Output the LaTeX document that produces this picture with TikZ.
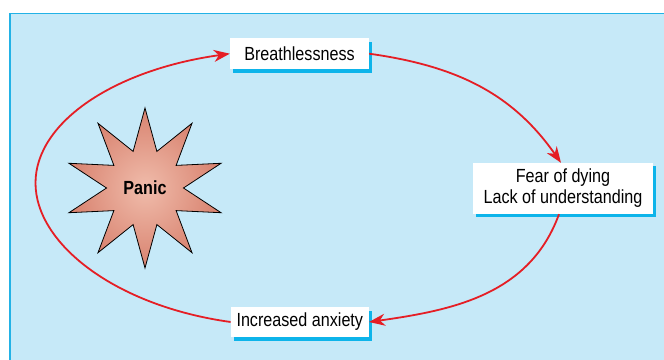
\documentclass[tikz,border=0pt]{standalone}
\usepackage{fontspec}
\setmainfont{Liberation Sans}[FakeStretch=0.85]
\usepackage{xcolor}
\usetikzlibrary{arrows.meta, positioning, calc, shapes.geometric, shadows}

\definecolor{panelblue}{HTML}{C6E9F8}
\definecolor{panelline}{HTML}{22B2E6}
\definecolor{shadowcyan}{HTML}{0DB4EA}
\definecolor{cyclered}{HTML}{E51E25}
\definecolor{paniclight}{HTML}{F0BCAB}
\definecolor{panicdark}{HTML}{D8826F}

\tikzset{
    stage/.style={rectangle, fill=white, align=center, inner sep=0pt,
        font=\fontsize{19}{21}\selectfont,
        drop shadow={shadow xshift=3pt, shadow yshift=-3.5pt,
            fill=shadowcyan, opacity=1}},
    cycle/.style={draw=cyclered, line width=1.8pt,
        -{Stealth[length=16pt, width=12pt, inset=5pt]}},
    cycleline/.style={draw=cyclered, line width=1.8pt}
}

\begin{document}
\begin{tikzpicture}[x=1pt, y=1pt]
    \useasboundingbox (0,0) rectangle (664,359);
    \begin{scope}
        \clip (0,0) rectangle (664,359);
        \draw[panelline, fill=panelblue, line width=1.3pt]
            (10,345.5) rectangle (680,-20);
    \end{scope}

    % the three stages
    \node[stage, minimum width=139pt, minimum height=31pt]
        (breath) at (299.5,305.3) {Breathlessness};
    \node[stage, minimum width=180pt, minimum height=51pt]
        (fear) at (563,170.5) {Fear of dying\\Lack of understanding};
    \node[stage, minimum width=138pt, minimum height=30pt]
        (anxiety) at (299.8,37) {Increased anxiety};

    % the star
    \node[star, star points=10, star point ratio=2.08, minimum size=160pt,
        inner sep=0pt, draw=black, line width=0.8pt,
        inner color=paniclight, outer color=panicdark,
        font=\bfseries\fontsize{19}{21}\selectfont]
        (panic) at (145,171) {Panic};

    \coordinate (loopleft) at (35.5,176);

    % the cycle
    \draw[cycle] (breath.east) to[out=-8, in=125] ([xshift=-2pt]fear.north);
    \draw[cycle] ([xshift=-4pt]fear.south) to[out=-110, in=8] (anxiety.east);
    \draw[cycleline] (anxiety.west) .. controls +(-115,16) and +(0,-61) .. (loopleft);
    \draw[cycle] (loopleft) .. controls +(0,61) and +(-115,-16) .. (breath.west);
\end{tikzpicture}
\end{document}
